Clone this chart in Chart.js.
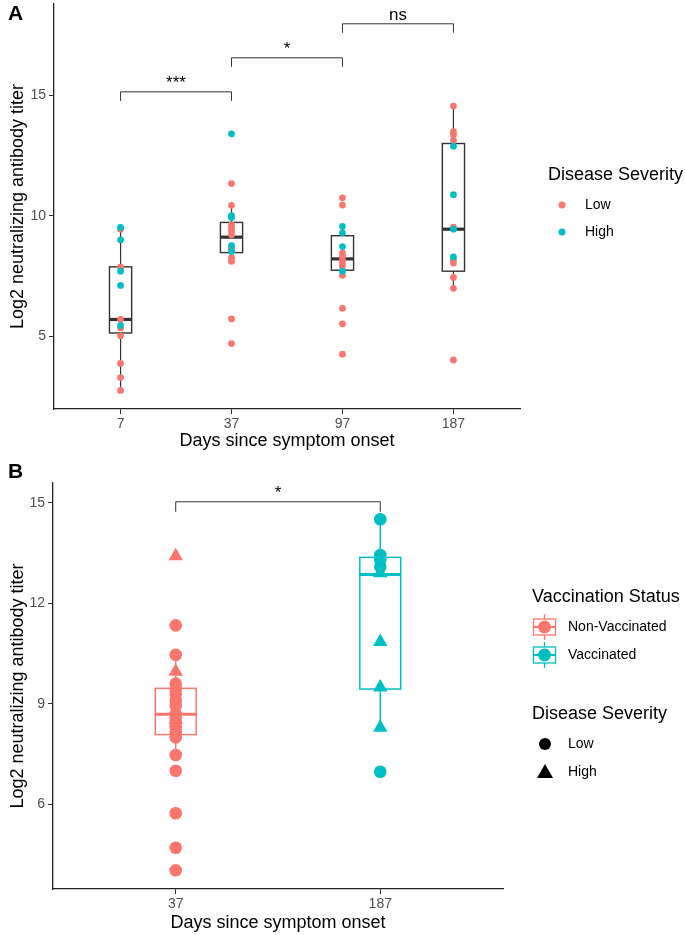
<!DOCTYPE html>
<html>
<head>
<meta charset="utf-8">
<script src="https://cdn.jsdelivr.net/npm/chart.js@4.4.1/dist/chart.umd.min.js"></script>
<style>
  body { margin: 0; background: #fff; }
  canvas { position: absolute; left: 0; }
  #chartA { top: 0; }
  #chartB { top: 460px; }
</style>
</head>
<body>
<canvas id="chartA" width="685" height="455"></canvas>
<canvas id="chartB" width="685" height="475"></canvas>
<script>
// ---- panel A data ----
var daysA = ["7", "37", "97", "187"];
var yTicksA = [5, 10, 15];
var lowA = [
  [9.45, 7.88, 5.71, 5.36, 5.03, 3.89, 3.30, 2.77],
  [11.34, 10.44, 9.63, 9.49, 9.36, 9.22, 8.67, 8.56, 8.26, 8.12, 5.73, 4.71],
  [10.75, 10.45, 8.47, 8.33, 8.19, 8.05, 7.92, 7.54, 6.17, 5.53, 4.27],
  [14.55, 13.49, 13.36, 13.14, 9.53, 8.19, 8.05, 7.45, 7.00, 4.03]
];
var highA = [
  [9.52, 9.01, 7.71, 7.12, 5.46],
  [13.40, 10.01, 9.93, 8.77, 8.53],
  [9.57, 9.30, 8.73, 7.71],
  [12.89, 10.88, 9.45, 8.30]
];
var q1A = [5.15, 8.48, 7.75, 7.71];
var medA = [5.71, 9.12, 8.22, 9.45];
var q3A = [7.89, 9.73, 9.18, 13.0];
var loA = [2.77, 8.12, 7.54, 7.0];
var hiA = [9.52, 10.44, 9.57, 14.55];
var sigA = ["***", "*", "ns"];

// ---- panel B data ----
var daysB = ["37", "187"];
var yTicksB = [6, 9, 12, 15];
var lowB = [
  [11.34, 10.46, 9.6, 9.45, 9.3, 9.1, 8.95, 8.6, 8.45, 8.3, 8.15, 8.0, 7.47, 7.0, 5.73, 4.70, 4.03],
  [14.51, 13.44, 13.29, 13.09, 6.97]
];
var highB = [
  [13.41, 9.96, 8.81, 8.52],
  [12.9, 10.85, 9.49, 8.29]
];
var q1B = [8.08, 9.44];
var medB = [8.69, 12.86];
var q3B = [9.46, 13.37];
var loB = [7.47, 8.29];
var hiB = [10.46, 14.51];
var sigB = ["*"];

var PINK = "#F8766D", CYAN = "#00BFC4";
var FAM = "'Liberation Sans', Arial, sans-serif";

function pts(groups) {
  var out = [];
  groups.forEach(function (g, i) {
    g.forEach(function (v) { out.push({ x: i + 1, y: v }); });
  });
  return out;
}

function at(xPos, values) {
  return values.map(function (v) { return { x: xPos, y: v }; });
}

var boxPlugin = {
  id: "boxes",
  beforeDatasetsDraw: function (chart, args, o) {
    var ctx = chart.ctx, x = chart.scales.x, y = chart.scales.y;
    ctx.save();
    o.median.forEach(function (m, i) {
      var xc = x.getPixelForValue(i + 1);
      var half = x.getPixelForValue(i + 1 + o.width / 2) - xc;
      var top = y.getPixelForValue(o.q3[i]), bot = y.getPixelForValue(o.q1[i]);
      ctx.strokeStyle = o.colors[i];
      ctx.lineWidth = o.whiskerWidth;
      ctx.beginPath();
      ctx.moveTo(xc, top);
      ctx.lineTo(xc, y.getPixelForValue(o.hi[i]));
      ctx.moveTo(xc, bot);
      ctx.lineTo(xc, y.getPixelForValue(o.lo[i]));
      ctx.stroke();
      ctx.lineWidth = o.lineWidth;
      ctx.fillStyle = "#fff";
      ctx.fillRect(xc - half, top, half * 2, bot - top);
      ctx.strokeRect(xc - half, top, half * 2, bot - top);
      var ym = y.getPixelForValue(m);
      ctx.lineWidth = o.medianWidth;
      ctx.beginPath();
      ctx.moveTo(xc - half, ym);
      ctx.lineTo(xc + half, ym);
      ctx.stroke();
    });
    ctx.restore();
  }
};

var bracketPlugin = {
  id: "brackets",
  afterDraw: function (chart, args, o) {
    var ctx = chart.ctx, x = chart.scales.x, y = chart.scales.y;
    ctx.save();
    ctx.strokeStyle = "#333";
    ctx.lineWidth = 1;
    ctx.fillStyle = "#000";
    ctx.font = "17px " + FAM;
    ctx.textAlign = "center";
    ctx.textBaseline = "alphabetic";
    o.pairs.forEach(function (p, i) {
      var x1 = x.getPixelForValue(p[0]), x2 = x.getPixelForValue(p[1]);
      var yb = y.getPixelForValue(o.levels[i]);
      ctx.beginPath();
      ctx.moveTo(x1, yb + o.tip);
      ctx.lineTo(x1, yb);
      ctx.lineTo(x2, yb);
      ctx.lineTo(x2, yb + o.tip);
      ctx.stroke();
      ctx.fillText(o.labels[i], (x1 + x2) / 2, yb - 4);
    });
    ctx.font = "bold 21px " + FAM;
    ctx.textAlign = "left";
    ctx.textBaseline = "middle";
    ctx.fillText(o.panel, 8, o.panelY);
    ctx.restore();
  }
};

function drawKeyTitle(ctx, text, x, y) {
  ctx.font = "18px " + FAM;
  ctx.fillStyle = "#000";
  ctx.textAlign = "left";
  ctx.textBaseline = "middle";
  ctx.fillText(text, x, y);
}
function drawKeyLabel(ctx, text, x, y) {
  ctx.font = "14px " + FAM;
  ctx.fillStyle = "#000";
  ctx.textAlign = "left";
  ctx.textBaseline = "middle";
  ctx.fillText(text, x, y);
}

var legendA = {
  id: "legendA",
  afterDraw: function (chart) {
    var ctx = chart.ctx;
    ctx.save();
    drawKeyTitle(ctx, "Disease Severity", 548, 175);
    [["Low", PINK, 205], ["High", CYAN, 232]].forEach(function (it) {
      ctx.fillStyle = it[1];
      ctx.beginPath();
      ctx.arc(562, it[2], 3.5, 0, Math.PI * 2);
      ctx.fill();
      drawKeyLabel(ctx, it[0], 585, it[2]);
    });
    ctx.restore();
  }
};

var legendB = {
  id: "legendB",
  afterDraw: function (chart) {
    var ctx = chart.ctx;
    ctx.save();
    drawKeyTitle(ctx, "Vaccination Status", 532, 137);
    [["Non-Vaccinated", PINK, 167], ["Vaccinated", CYAN, 195]].forEach(function (it) {
      var cx = 544.5, cy = it[2];
      ctx.strokeStyle = it[1];
      ctx.lineWidth = 1.3;
      ctx.beginPath();
      ctx.moveTo(cx, cy - 13);
      ctx.lineTo(cx, cy + 13);
      ctx.stroke();
      ctx.fillStyle = "#fff";
      ctx.fillRect(cx - 11, cy - 8, 22, 16);
      ctx.strokeRect(cx - 11, cy - 8, 22, 16);
      ctx.lineWidth = 2;
      ctx.beginPath();
      ctx.moveTo(cx - 11, cy);
      ctx.lineTo(cx + 11, cy);
      ctx.stroke();
      ctx.fillStyle = it[1];
      ctx.beginPath();
      ctx.arc(cx, cy, 6.5, 0, Math.PI * 2);
      ctx.fill();
      drawKeyLabel(ctx, it[0], 568, cy);
    });
    drawKeyTitle(ctx, "Disease Severity", 532, 254);
    ctx.fillStyle = "#000";
    ctx.beginPath();
    ctx.arc(545, 284, 6, 0, Math.PI * 2);
    ctx.fill();
    drawKeyLabel(ctx, "Low", 568, 284);
    ctx.beginPath();
    ctx.moveTo(545, 304);
    ctx.lineTo(553, 318);
    ctx.lineTo(537, 318);
    ctx.closePath();
    ctx.fill();
    drawKeyLabel(ctx, "High", 568, 312);
    ctx.restore();
  }
};

function scales(xLabels, yTicks, yMin, yMax, yWidth, xHeight, xTitlePad) {
  return {
    x: {
      type: "linear",
      min: 0.4,
      max: xLabels.length + 0.6,
      afterBuildTicks: function (s) { s.ticks = xLabels.map(function (l, i) { return { value: i + 1 }; }); },
      afterFit: function (s) { s.height = xHeight; s.paddingLeft = 0; s.paddingRight = 0; },
      ticks: {
        callback: function (v, i) { return xLabels[i]; },
        color: "#4D4D4D", font: { family: FAM, size: 14 }, padding: 2, maxRotation: 0, autoSkip: false
      },
      grid: { drawOnChartArea: false, tickLength: 5, color: "#333", lineWidth: 1 },
      border: { color: "#222", width: 1.3 },
      title: {
        display: true, text: "Days since symptom onset", color: "#000",
        font: { family: FAM, size: 18 }, padding: { top: 0, bottom: xTitlePad }
      }
    },
    y: {
      type: "linear",
      min: yMin,
      max: yMax,
      afterBuildTicks: function (s) { s.ticks = yTicks.map(function (v) { return { value: v }; }); },
      afterFit: function (s) { s.width = yWidth; s.paddingTop = 0; s.paddingBottom = 0; },
      ticks: { color: "#4D4D4D", font: { family: FAM, size: 14 }, padding: 3 },
      grid: { drawOnChartArea: false, tickLength: 5, color: "#333", lineWidth: 1 },
      border: { color: "#222", width: 1.3 },
      title: {
        display: true, text: "Log2 neutralizing antibody titer", color: "#000",
        font: { family: FAM, size: 18 }, padding: { top: 7, bottom: 0 }
      }
    }
  };
}

new Chart("chartA", {
  type: "scatter",
  data: {
    datasets: [
      { label: "High", data: pts(highA), backgroundColor: CYAN, pointRadius: 3.4, borderWidth: 0 },
      { label: "Low", data: pts(lowA), backgroundColor: PINK, pointRadius: 3.4, borderWidth: 0 }
    ]
  },
  options: {
    responsive: false,
    animation: false,
    devicePixelRatio: 1,
    layout: { padding: { top: 1, right: 165, left: 0, bottom: 0 } },
    scales: scales(daysA, yTicksA, 2.0, 18.78, 54, 46, 3),
    plugins: {
      legend: { display: false },
      tooltip: { enabled: false },
      boxes: {
        q1: q1A, median: medA, q3: q3A, lo: loA, hi: hiA, width: 0.2,
        colors: ["#333", "#333", "#333", "#333"], lineWidth: 1.4, medianWidth: 3.2, whiskerWidth: 1.2
      },
      brackets: { pairs: [[1, 2], [2, 3], [3, 4]], levels: [15.14, 16.55, 17.96], labels: sigA, tip: 9, panel: "A", panelY: 14 }
    }
  },
  plugins: [boxPlugin, bracketPlugin, legendA]
});

new Chart("chartB", {
  type: "scatter",
  data: {
    datasets: [
      { label: "Vaccinated High", data: at(2, highB[1]), backgroundColor: CYAN, pointStyle: "triangle", pointRadius: 8.3, borderWidth: 0 },
      { label: "Vaccinated Low", data: at(2, lowB[1]), backgroundColor: CYAN, pointRadius: 6.3, borderWidth: 0 },
      { label: "Non-Vaccinated High", data: at(1, highB[0]), backgroundColor: PINK, pointStyle: "triangle", pointRadius: 8.3, borderWidth: 0 },
      { label: "Non-Vaccinated Low", data: at(1, lowB[0]), backgroundColor: PINK, pointRadius: 6.3, borderWidth: 0 }
    ]
  },
  options: {
    responsive: false,
    animation: false,
    devicePixelRatio: 1,
    layout: { padding: { top: 23, right: 182, left: 0, bottom: 0 } },
    scales: scales(daysB, yTicksB, 3.47, 15.59, 53, 46, 1),
    plugins: {
      legend: { display: false },
      tooltip: { enabled: false },
      boxes: {
        q1: q1B, median: medB, q3: q3B, lo: loB, hi: hiB, width: 0.2,
        colors: [PINK, CYAN], lineWidth: 1.5, medianWidth: 3, whiskerWidth: 1.5
      },
      brackets: { pairs: [[1, 2]], levels: [15.03], labels: sigB, tip: 10, panel: "B", panelY: 12 }
    }
  },
  plugins: [boxPlugin, bracketPlugin, legendB]
});
</script>
</body>
</html>
